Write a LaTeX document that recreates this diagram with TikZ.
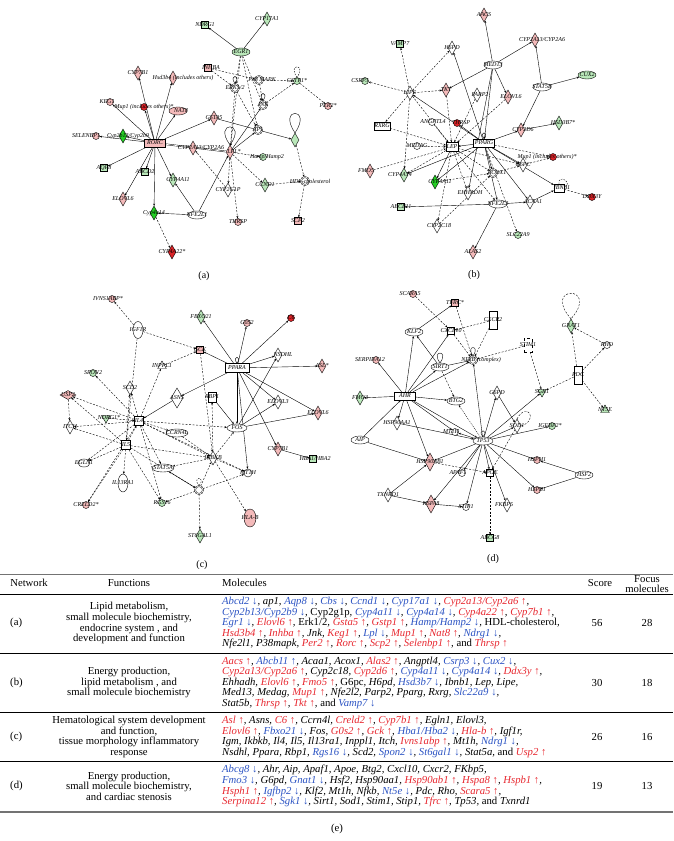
\documentclass[tikz,border=0pt]{standalone}
\usepackage{fontspec}
\setmainfont{Liberation Serif}
\usetikzlibrary{shapes.geometric,arrows.meta,backgrounds}

\definecolor{pinkf}{RGB}{244,186,186}
\definecolor{redf}{RGB}{220,36,40}
\definecolor{greenl}{RGB}{186,232,186}
\definecolor{greenb}{RGB}{36,206,36}
\definecolor{geneup}{RGB}{232,40,48}
\definecolor{genedn}{RGB}{44,84,196}

\newcommand{\gup}[1]{\textcolor{geneup}{#1~↑}}
\newcommand{\gdn}[1]{\textcolor{genedn}{#1~↓}}

\tikzset{
 gn/.style={draw, line width=0.4pt, inner sep=0pt, fill=white},
 dia/.style={gn, diamond, minimum width=8pt, minimum height=14pt},
 cir/.style={gn, circle, minimum size=7pt},
 ell/.style={gn, ellipse, minimum width=18pt, minimum height=8pt},
 sqr/.style={gn, rectangle, minimum size=7pt},
 rct/.style={gn, rectangle, minimum width=21pt, minimum height=8pt},
 cpx/.style={gn, circle, minimum size=8pt, double, double distance=0.7pt},
 tri/.style={gn, regular polygon, regular polygon sides=3, minimum size=10pt},
 pk/.style={fill=pinkf}, rd/.style={fill=redf},
 gl/.style={fill=greenl}, gb/.style={fill=greenb},
 lab/.style={font=\fontsize{6}{6}\selectfont\itshape, inner sep=0pt},
 tx/.style={label={[lab]center:#1}},
 ed/.style={-{Stealth[length=2.4pt,width=2pt]}, line width=0.4pt},
 ded/.style={ed, dash pattern=on 2pt off 1.5pt},
 tab/.style={font=\fontsize{10.7}{10.6}\selectfont, inner sep=0pt},
 mol/.style={tab, anchor=west, align=left, font=\fontsize{10.7}{10.6}\selectfont\itshape},
}

\begin{document}
\begin{tikzpicture}[x=1pt,y=-1pt]
 \useasboundingbox (0,0) rectangle (673,841);

 % Network (a)
 \node[rct,pk,tx=RORC] (rorc) at (155,143) {};
 \node[dia,pk,tx=CYP7B1] (cyp7b1a) at (138,73) {};
 \node[dia,pk,label={[lab,xshift=10pt]center:Hsd3b4 (includes others)}] (hsd3b4) at (173,78) {};
 \node[cir,pk,label={[lab,xshift=-3pt]center:KEG1}] (keg1) at (110,102) {};
 \node[cir,rd,label={[lab,xshift=0pt]center:Mup1 (includes others)*}] (mup1a) at (144,107) {};
 \node[ell,pk,label={[lab,xshift=3pt]center:NAT8}] (nat8) at (178,111) {};
 \node[cir,pk,label={[lab,xshift=-10pt]center:SELENBP1}] (selenbp1) at (96,136) {};
 \node[dia,gb,label={[lab,xshift=5pt]center:Cyp2b13/Cyp2b9}] (cyp2ba) at (123,136) {};
 \node[sqr,gl,tx=AQP8] (aqp8) at (104,168) {};
 \node[sqr,gl,tx=ABCD2] (abcd2) at (145,172) {};
 \node[dia,pk,tx=ELOVL6] (elovl6a) at (123,199) {};
 \node[dia,gl,label={[lab,xshift=5pt]center:CYP4A11}] (cyp4a11a) at (173,180) {};
 \node[dia,gb,tx=Cyp4a14] (cyp4a14a) at (154,213) {};
 \node[ell,tx=NFE2L1] (nfe2l1) at (197,215) {};
 \node[dia,rd,tx=CYP4A22*] (cyp4a22) at (172,252) {};
 \node[dia,pk,tx=GSTA5] (gsta5) at (214,118) {};
 \node[dia,pk,label={[lab,xshift=8pt]center:CYP2A13/CYP2A6}] (cyp2aa) at (193,148) {};
 \node[dia,pk,label={[lab,xshift=4pt]center:LPL*}] (lpla) at (230,152) {};
 \node[dia,gl] (cbs) at (295,140) {};
 \node[sqr,gl,tx=NDRG1] (ndrg1a) at (205,25) {};
 \node[dia,gl,tx=CYP17A1] (cyp17a1) at (267,19) {};
 \node[ell,gl,tx=EGR1] (egr1) at (241,52) {};
 \node[sqr,pk,label={[lab,xshift=3pt]center:INHBA}] (inhba) at (208,68) {};
 \node[cpx,tx=ERK1/2] (erk) at (235,88) {};
 \node[cpx,label={[lab,xshift=3pt]center:P38 MAPK}] (p38) at (259,80) {};
 \node[cir,gl,tx=GSTP1*] (gstp1) at (297,81) {};
 \node[cir,pk,tx=PER2*] (per2) at (328,106) {};
 \node[cpx,tx=JNK] (jnk) at (263,105) {};
 \node[cpx,tx=AP1] (ap1) at (258,130) {};
 \node[cir,gl,label={[lab,xshift=4pt]center:Hamp/Hamp2}] (hamp) at (263,157) {};
 \node[dia,gl,tx=CCND1] (ccnd1) at (265,185) {};
 \node[dia,tx=CYP2G1P] (cyp2g1p) at (228,190) {};
 \node[cir,pk,tx=THRSP] (thrspa) at (238,222) {};
 \node[cpx,label={[lab,xshift=5pt]center:HDL-cholesterol}] (hdl) at (305,181) {};
 \node[sqr,pk,tx=SCP2] (scp2) at (298,221) {};
 \node (capa) at (204,276) {(a)};

 % Network (b)
 \node[rct,tx=PPARG] (pparg) at (484,143) {};
 \node[dia,pk,tx=AACS] (aacs) at (484,15) {};
 \node[dia,pk,label={[lab,xshift=7pt]center:CYP2A13/CYP2A6}] (cyp2ab) at (535,40) {};
 \node[ell,tx=MED13] (med13) at (493,65) {};
 \node[ell,gl,tx=CUX2] (cux2) at (587,75) {};
 \node[ell,tx=STAT5B] (stat5b) at (542,87) {};
 \node[sqr,gl,tx=VAMP7] (vamp7) at (400,44) {};
 \node[dia,tx=H6PD] (h6pd) at (452,48) {};
 \node[cir,gl,label={[lab,xshift=-5pt]center:CSRP3}] (csrp3) at (365,81) {};
 \node[dia,tx=LIPE] (lipe) at (410,93) {};
 \node[dia,pk,tx=TKT] (tkt) at (446,90) {};
 \node[dia,label={[lab,xshift=3pt]center:PARP2}] (parp2) at (477,95) {};
 \node[dia,pk,label={[lab,xshift=3pt]center:ELOVL6}] (elovl6b) at (508,97) {};
 \node[rct,minimum width=16pt,tx=RXRG] (rxrg) at (382,126) {};
 \node[cir,label={[lab,xshift=1pt]center:ANGPTL4}] (angptl4) at (432,122) {};
 \node[cir,rd,label={[lab,xshift=4pt]center:THRSP}] (thrspb) at (457,123) {};
 \node[dia,pk,label={[lab,xshift=2pt]center:CYP2D6}] (cyp2d6) at (521,130) {};
 \node[dia,gl,label={[lab,xshift=4pt]center:HSD3B7*}] (hsd3b7) at (559,123) {};
 \node[cir,tx=MEDAG] (medag) at (417,146) {};
 \node[rct,minimum width=12pt,minimum height=9pt,tx=LEP] (lep) at (452,147) {};
 \node[cir,rd,label={[lab,xshift=-6pt]center:Mup1 (includes others)*}] (mup1b) at (553,157) {};
 \node[dia,tx=G6PC] (g6pc) at (523,165) {};
 \node[dia,pk,label={[lab,xshift=-4pt]center:FMO5}] (fmo5) at (370,171) {};
 \node[dia,gl,label={[lab,xshift=-4pt]center:CYP4A14}] (cyp4a14b) at (404,175) {};
 \node[dia,gb,label={[lab,xshift=5pt]center:CYP4A11}] (cyp4a11b) at (435,182) {};
 \node[cpx,label={[lab,xshift=4pt]center:ACOX1}] (acox1) at (493,173) {};
 \node[rct,minimum width=10pt,label={[lab,xshift=3pt]center:IBNB1}] (ibnb1) at (559,188) {};
 \node[cir,rd,tx=DDX3Y] (ddx3y) at (592,197) {};
 \node[dia,label={[lab,xshift=2pt]center:EHHADH}] (ehhadh) at (468,193) {};
 \node[ell,tx=NFE2L2] (nfe2l2) at (498,204) {};
 \node[dia,label={[lab,xshift=3pt]center:ACAA1}] (acaa1) at (530,202) {};
 \node[sqr,gl,tx=ABCB11] (abcb11) at (401,207) {};
 \node[dia,label={[lab,xshift=2pt]center:CYP2C18}] (cyp2c18) at (437,226) {};
 \node[cir,gl,tx=SLC22A9] (slc22a9) at (518,235) {};
 \node[dia,pk,tx=ALAS2] (alas2) at (473,252) {};
 \node (capb) at (474,275) {(b)};

 % Network (c)
 \node[rct,minimum width=24pt,minimum height=9pt,tx=PPARA] (pparac) at (237,368) {};
 \node[cir,pk,label={[lab,xshift=-4pt]center:IVNS1ABP*}] (ivns) at (112,299) {};
 \node[ell,minimum width=10pt,minimum height=17pt,tx=IGF1R] (igf1r) at (138,330) {};
 \node[dia,gl,tx=FBXO21] (fbxo21) at (201,317) {};
 \node[cir,pk,tx=G0S2] (g0s2) at (247,323) {};
 \node[cir,rd,tx=C6] (c6) at (291,318) {};
 \node[sqr,pk,tx=GCK] (gck) at (200,350) {};
 \node[dia,label={[lab,xshift=5pt]center:NSDHL}] (nsdhl) at (278,355) {};
 \node[dia,pk,tx=ASL*] (asl) at (322,366) {};
 \node[cir,gl,tx=SPON2] (spon2) at (93,373) {};
 \node[tri,tx=INPPL1] (inppl1) at (162,366) {};
 \node[dia,tx=SCD2] (scd2) at (130,388) {};
 \node[dia,minimum width=12pt,minimum height=20pt,tx=ASNS] (asns) at (177,398) {};
 \node[sqr,minimum width=8pt,minimum height=10pt,tx=RBP1] (rbp1) at (212,397) {};
 \node[dia,pk,minimum width=16pt,minimum height=9pt,tx=USP2] (usp2) at (68,395) {};
 \node[dia,tx=ELOVL3] (elovl3) at (278,402) {};
 \node[dia,pk,tx=ELOVL6] (elovl6c) at (318,413) {};
 \node[dia,tx=ITCH] (itch) at (70,427) {};
 \node[tri,gl,shape border rotate=180,label={[lab,xshift=3pt]center:NDRG1*}] (ndrg1c) at (106,418) {};
 \node[sqr,minimum size=9pt,tx=IL4] (il4) at (139,421) {};
 \node[ell,minimum width=22pt,tx=CCRN4L] (ccrn4l) at (177,433) {};
 \node[ell,minimum width=20pt,tx=FOS] (fos) at (237,428) {};
 \node[sqr,minimum size=9pt,tx=IL5] (il5) at (126,445) {};
 \node[dia,pk,tx=CYP7B1] (cyp7b1c) at (278,449) {};
 \node[sqr,gl,label={[lab,xshift=2pt]center:HBA1/HBA2}] (hba) at (313,459) {};
 \node[ell,minimum width=12pt,tx=EGLN1] (egln1) at (84,463) {};
 \node[dia,tx=IKBKB] (ikbkb) at (213,458) {};
 \node[ell,minimum width=22pt,tx=STAT5A] (stat5a) at (163,468) {};
 \node[cir,minimum size=8pt,tx=MT1H] (mt1h) at (248,473) {};
 \node[ell,minimum width=10pt,minimum height=18pt,tx=IL13RA1] (il13ra1) at (123,483) {};
 \node[cpx] (igm) at (199,490) {};
 \node[cir,gl,tx=RGS16] (rgs16) at (162,503) {};
 \node[cir,pk,tx=CRELD2*] (creld2) at (86,505) {};
 \node[ell,pk,minimum width=12pt,minimum height=18pt,tx=HLA-B] (hlab) at (250,518) {};
 \node[dia,gl,tx=ST6GAL1] (st6gal1) at (200,536) {};
 \node (capc) at (202,565) {(c)};

 % Network (d)
 \node[cir,pk,label={[lab,xshift=-3pt]center:SCARA5}] (scara5) at (413,294) {};
 \node[sqr,pk,tx=TFRC*] (tfrc) at (455,303) {};
 \node[rct,minimum width=8pt,minimum height=18pt,tx=CXCR2] (cxcr2) at (493,320) {};
 \node[ell,tx=KLF2] (klf2) at (414,332) {};
 \node[sqr,tx=CXCL10] (cxcl10) at (451,331) {};
 \node[dia,gl,tx=GNAT1] (gnat1) at (571,326) {};
 \node[cir,tx=RHO] (rho) at (607,345) {};
 \node[rct,minimum width=8pt,minimum height=18pt,tx=PDC] (pdc) at (578,375) {};
 \node[tri,gl,tx=NT5E] (nt5e) at (605,410) {};
 \node[rct,dashed,minimum width=8pt,minimum height=14pt,tx=STIM1] (stim1) at (528,345) {};
 \node[tri,gl,shape border rotate=180,tx=SGK1] (sgk1) at (542,392) {};
 \node[cpx,label={[lab,xshift=8pt]center:NFkB (complex)}] (nfkb) at (473,360) {};
 \node[ell,tx=SIRT1] (sirt1) at (440,367) {};
 \node[cir,pk,label={[lab,xshift=-6pt]center:SERPINA12}] (serpina12) at (376,360) {};
 \node[rct,tx=AHR] (ahr) at (405,396) {};
 \node[dia,gl,tx=FMO3] (fmo3) at (360,398) {};
 \node[ell,tx=BTG2] (btg2) at (456,401) {};
 \node[dia,tx=G6PD] (g6pd) at (497,393) {};
 \node[dia,tx=SOD1] (sod1) at (517,426) {};
 \node[cir,gl,label={[lab,xshift=-2pt]center:IGFBP2*}] (igfbp2) at (552,426) {};
 \node[cir,label={[lab,xshift=-4pt]center:MT1H}] (mt1hd) at (455,432) {};
 \node[dia,tx=HSP90AA1] (hsp90aa1) at (397,423) {};
 \node[ell,tx=AIP] (aip) at (360,440) {};
 \node[ell,minimum width=20pt,tx=TP53] (tp53) at (483,441) {};
 \node[cir,pk,tx=HSPH1] (hsph1) at (537,460) {};
 \node[ell,tx=HSF2] (hsf2) at (584,475) {};
 \node[cir,pk,tx=HSPB1] (hspb1) at (537,490) {};
 \node[dia,pk,minimum width=10pt,minimum height=18pt,tx=HSP90AB1] (hsp90ab1) at (430,462) {};
 \node[cir,label={[lab,xshift=-4pt]center:APAF1}] (apaf1) at (462,473) {};
 \node[sqr,tx=APOE] (apoe) at (490,473) {};
 \node[dia,tx=TXNRD1] (txnrd1) at (388,495) {};
 \node[dia,pk,minimum width=10pt,minimum height=18pt,tx=HSPA8] (hspa8) at (431,504) {};
 \node[cir,tx=STIP1] (stip1) at (466,507) {};
 \node[dia,label={[lab,xshift=-3pt]center:FKBP5}] (fkbp5) at (507,505) {};
 \node[sqr,gl,tx=ABCG8] (abcg8) at (490,538) {};
 \node (capd) at (493,559) {(d)};

 % Connectors behind the nodes
 \begin{scope}[on background layer]
 \fill[white] (0,0) rectangle (673,841);
 % (a)
 \draw[ed] (rorc) edge (cyp7b1a) edge (hsd3b4) edge (keg1) edge (mup1a) edge (nat8)
  edge (selenbp1) edge (cyp2ba) edge (aqp8) edge (abcd2) edge (elovl6a)
  edge (cyp4a11a) edge (cyp4a14a) edge (gsta5);
 \draw[line width=0.4pt, double, double distance=0.7pt] (rorc) -- (lpla);
 \draw[ed] (egr1) edge (ndrg1a) edge (cyp17a1);
 \draw[ed] (gsta5) edge (cbs);
 \draw[ed] (nfe2l1) edge (cyp4a14a) edge (cyp4a11a) edge (lpla);
 \draw[ed] (lpla) edge (jnk) edge (ap1);
 \draw[ded] (cyp4a14a) edge (cyp4a22);
 \draw[ded] (egr1) edge (erk) edge (jnk) edge (lpla) edge (ap1);
 \draw[ded] (inhba) edge (p38) edge (erk);
 \draw[ded] (erk) edge (ap1) edge (lpla);
 \draw[ded] (p38) edge (gstp1) edge (jnk);
 \draw[ded] (jnk) edge (gstp1);
 \draw[ded] (gstp1) edge (per2);
 \draw[ded] (lpla) edge (hamp) edge (ccnd1) edge (thrspa) edge (cyp2g1p);
 \draw[ded] (cyp2g1p) edge (cyp2aa);
 \draw[ded] (ccnd1) edge (hdl);
 \draw[ded] (cbs) edge (hdl);
 \draw[ded] (hdl) edge (scp2);
 \draw[line width=0.4pt] (lpla.north) .. controls +(-18,-24) and +(18,-24) .. (lpla.north);
 \draw[line width=0.4pt] (cbs.north) .. controls +(-18,-26) and +(18,-26) .. (cbs.north);
 \draw[line width=0.4pt] (erk.north) .. controls +(-7,-10) and +(7,-10) .. (erk.north);
 \draw[line width=0.4pt] (jnk.north) .. controls +(-7,-10) and +(7,-10) .. (jnk.north);
 \draw[line width=0.4pt, dash pattern=on 1.5pt off 1.2pt] (gstp1.north) .. controls +(-10,-14) and +(10,-14) .. (gstp1.north);
 % (b)
 \draw[ed] (med13) edge (aacs) edge (cyp2ab) edge (tkt) edge (elovl6b) edge (pparg) edge (ehhadh);
 \draw[ed] (stat5b) edge (cyp2ab) edge (cux2) edge (cyp2d6);
 \draw[ed] (cyp2d6) edge (hsd3b7);
 \draw[ed] (pparg) edge (h6pd) edge (lipe) edge (lep) edge (thrspb) edge (cyp2d6)
  edge (cyp4a11b) edge (acox1) edge (nfe2l2) edge (g6pc) edge (ibnb1) edge (acaa1) edge (cyp4a14b);
 \draw[ed] (nfe2l2) edge (abcb11) edge (alas2) edge (acaa1);
 \draw[ed] (acaa1) edge (ibnb1);
 \draw[ed] (lep) edge (cyp4a11b);
 \draw[ded] (lipe) edge (vamp7) edge (csrp3) edge (rxrg) edge (h6pd) edge (tkt) edge (cyp4a14b) edge (lep);
 \draw[ded] (rxrg) edge (lep);
 \draw[ded] (fmo5) edge (lep);
 \draw[ded] (medag) edge (lep);
 \draw[ded] (pparg) edge (mup1b) edge (slc22a9);
 \draw[ded] (g6pc) edge (mup1b);
 \draw[ded] (ibnb1) edge (ddx3y);
 \draw[ded] (lep) edge (cyp2c18) edge (ehhadh) edge (acox1) edge (g6pc) edge (cyp4a14b) edge (nfe2l2);
 \draw[ded] (tkt) edge (lep);
 \draw[ded] (parp2) edge (lep);
 \draw[ded] (elovl6b) edge (lep);
 \draw[ded] (angptl4) edge (lep);
 \draw[ded] (cyp4a11b) edge (acox1);
 \draw[ded] (cyp2c18) edge (acox1);
 \draw[ded] (acox1) edge (g6pc);
 \draw[line width=0.4pt] (pparg.north) .. controls +(-6,-8) and +(6,-8) .. (pparg.north);
 \draw[line width=0.4pt, dash pattern=on 1.5pt off 1.2pt] (ibnb1.north) .. controls +(-2,-10) and +(10,-6) .. (ibnb1.east);
 % (c)
 \draw[ed] (pparac) edge (fbxo21) edge (g0s2) edge (c6) edge (nsdhl) edge (asl) edge (elovl6c)
  edge (cyp7b1c) edge (fos) edge (asns) edge (gck) edge (elovl3) edge (mt1h);
 \draw[ed] (fos) edge (elovl3) edge (nsdhl) edge (elovl6c);
 \draw[ed] (rbp1) edge (fos);
 \draw[ed] (cyp7b1c) edge (hba);
 \draw[ed] (asns) edge (il4);
 \draw[ed] (igm) edge (stat5a);
 \draw[ded] (igf1r) edge (ivns) edge (gck) edge (il5);
 \draw[ded] (inppl1) edge (gck);
 \draw[ded] (gck) edge (ikbkb);
 \draw[ded] (il4) edge (spon2) edge (scd2) edge (inppl1) edge (usp2) edge (itch) edge (ccrn4l)
  edge (fos) edge (ikbkb) edge (stat5a) edge (rgs16) edge (egln1) edge (creld2) edge (mt1h);
 \draw[ded] (il5) edge (itch) edge (egln1) edge (creld2) edge (il13ra1) edge (rgs16)
  edge (ikbkb) edge (scd2) edge (usp2) edge (il4) edge (igm);
 \draw[ded] (ndrg1c) edge (il4);
 \draw[ded] (usp2) edge (itch);
 \draw[ded] (ikbkb) edge (fos) edge (rbp1) edge (hlab) edge (stat5a) edge (mt1h);
 \draw[ded] (igm) edge (mt1h) edge (st6gal1) edge (rgs16) edge (ikbkb);
 \draw[ded] (ccrn4l) edge (ikbkb);
 \draw[line width=0.4pt] (pparac.north) .. controls +(-6,-8) and +(6,-8) .. (pparac.north);
 \draw[line width=0.4pt, dash pattern=on 1.5pt off 1.2pt] (igm.north) .. controls +(-8,-10) and +(8,-10) .. (igm.north);
 % (d)
 \draw[ed] (klf2) edge (tfrc);
 \draw[ed] (ahr) edge (klf2) edge (cxcl10) edge (sirt1) edge (nfkb) edge (fmo3) edge (btg2)
  edge (mt1hd) edge (hsp90aa1) edge (hsp90ab1) edge (serpina12) edge (tp53);
 \draw[ed] (aip) edge (ahr) edge (hsp90ab1);
 \draw[ed] (hsp90aa1) edge (tp53);
 \draw[ed] (sirt1) edge (klf2) edge (nfkb);
 \draw[ed] (tp53) edge (nfkb) edge (g6pd) edge (sgk1) edge (sod1) edge (igfbp2) edge (hsph1)
  edge (hspb1) edge (hsp90ab1) edge (apaf1) edge (apoe) edge (stip1) edge (fkbp5) edge (mt1hd) edge (hspa8);
 \draw[ed] (g6pd) edge (sod1);
 \draw[ed] (hsf2) edge (hsph1) edge (hspb1);
 \draw[ed] (txnrd1) edge (hsp90ab1) edge (hspa8);
 \draw[ed] (hspa8) edge (stip1);
 \draw[ed, dash pattern=on 1pt off 1pt] (tp53) edge (btg2);
 \draw[ded] (scara5) edge (cxcl10);
 \draw[ded] (tfrc) edge (nfkb);
 \draw[ded] (cxcr2) edge (nfkb) edge (cxcl10);
 \draw[ded] (cxcl10) edge (nfkb);
 \draw[ded] (stim1) edge (nfkb) edge (sgk1);
 \draw[ded] (pdc) edge (sgk1) edge (gnat1) edge (rho) edge (nt5e);
 \draw[ded] (rho) edge (gnat1);
 \draw[ded] (sirt1) edge (btg2);
 \draw[ded] (hsp90ab1) edge (apoe);
 \draw[ded] (apoe) edge (abcg8);
 \draw[ded] (sod1) edge (apoe);
 \draw[line width=0.4pt] (tp53.north) .. controls +(-7,-8) and +(7,-8) .. (tp53.north);
 \draw[line width=0.4pt] (sirt1.north) .. controls +(-10,-13) and +(10,-13) .. (sirt1.north);
 \draw[line width=0.4pt] (nfkb.north) .. controls +(-8,-11) and +(8,-11) .. (nfkb.north);
 \draw[line width=0.4pt, dash pattern=on 2pt off 1.5pt] (gnat1.north) .. controls +(-30,-34) and +(30,-34) .. (gnat1.north);
 \draw[line width=0.4pt, dash pattern=on 2pt off 1.5pt] (sod1.north) .. controls +(10,-18) and +(18,-6) .. (sod1.east);
 \end{scope}

 % Table (e)
 \draw[line width=1.2pt, black!55] (0,574.5) -- (673,574.5);
 \draw[line width=0.5pt] (0,594) -- (673,594);
 \draw[line width=0.5pt] (0,653) -- (673,653);
 \draw[line width=0.5pt] (0,712.6) -- (673,712.6);
 \draw[line width=0.5pt] (0,761.6) -- (673,761.6);
 \draw[line width=1.2pt, black!55] (0,812) -- (673,812);

 \node[tab] (hnet) at (29,583) {Network};
 \node[tab] (hfun) at (129,583) {Functions};
 \node[tab,anchor=west] (hmol) at (222,583) {Molecules};
 \node[tab] (hsco) at (600,583) {Score};
 \node[tab,align=center,font=\fontsize{10.7}{9.5}\selectfont] (hfoc) at (647,584) {Focus\\molecules};

 \node[tab,anchor=west] (neta) at (10,623.2) {(a)};
 \node[tab,align=center] (funa) at (129,623.2) {Lipid metabolism,\\small molecule biochemistry,\\endocrine system , and\\development and function};
 \node[mol] (mola) at (222,623.2) {%
 \gdn{Abcd2}, ap1, \gdn{Aqp8}, \gdn{Cbs}, \gdn{Ccnd1}, \gdn{Cyp17a1}, \gup{Cyp2a13/Cyp2a6},\\
 \gdn{Cyp2b13/Cyp2b9}, \textup{Cyp2g1p}, \gdn{Cyp4a11}, \gdn{Cyp4a14}, \gup{Cyp4a22}, \gup{Cyp7b1},\\
 \gdn{Egr1}, \gup{Elovl6}, \textup{Erk1/2}, \gup{Gsta5}, \gup{Gstp1}, \gdn{Hamp/Hamp2}, \textup{HDL-cholesterol},\\
 \gup{Hsd3b4}, \gup{Inhba}, Jnk, \gup{Keg1}, \gdn{Lpl}, \gup{Mup1}, \gup{Nat8}, \gdn{Ndrg1},\\
 Nfe2l1, P38mapk, \gup{Per2}, \gup{Rorc}, \gup{Scp2}, \gup{Selenbp1}, \textup{and} \gup{Thrsp}};
 \node[tab] (scoa) at (597,623.2) {56};
 \node[tab] (foca) at (647,623.2) {28};

 \node[tab,anchor=west] (netb) at (10,682.8) {(b)};
 \node[tab,align=center] (funb) at (129,682.8) {Energy production,\\lipid metabolism , and\\small molecule biochemistry};
 \node[mol] (molb) at (222,682.8) {%
 \gup{Aacs}, \textcolor{genedn}{Abcb11~↑}, Acaa1, Acox1, \gup{Alas2}, Angptl4, \gdn{Csrp3}, \gdn{Cux2},\\
 \gup{Cyp2a13/Cyp2a6}, Cyp2c18, \gup{Cyp2d6}, \gdn{Cyp4a11}, \gdn{Cyp4a14}, \gup{Ddx3y},\\
 Ehhadh, \gup{Elovl6}, \gup{Fmo5}, \textup{G6pc}, H6pd, \gdn{Hsd3b7}, Ibnb1, Lep, Lipe,\\
 Med13, Medag, \gup{Mup1}, Nfe2l2, Parp2, Pparg, Rxrg, \gdn{Slc22a9},\\
 Stat5b, \gup{Thrsp}, \gup{Tkt}, \textup{and} \gdn{Vamp7}};
 \node[tab] (scob) at (597,682.8) {30};
 \node[tab] (focb) at (647,682.8) {18};

 \node[tab,anchor=west] (netc) at (10,737.1) {(c)};
 \node[tab,align=center] (func) at (129,737.1) {Hematological system development\\and function,\\tissue morphology inflammatory\\response};
 \node[mol] (molc) at (222,737.1) {%
 \gup{Asl}, Asns, \gup{C6}, Ccrn4l, \gup{Creld2}, \gup{Cyp7b1}, Egln1, Elovl3,\\
 \gup{Elovl6}, \gdn{Fbxo21}, Fos, \gup{G0s2}, \gup{Gck}, \gdn{Hba1/Hba2}, \gup{Hla-b}, Igf1r,\\
 Igm, Ikbkb, Il4, Il5, Il13ra1, Inppl1, Itch, \gup{Ivns1abp}, Mt1h, \gdn{Ndrg1},\\
 Nsdhl, Ppara, Rbp1, \gdn{Rgs16}, Scd2, \gdn{Spon2}, \gdn{St6gal1}, Stat5a, \textup{and} \gup{Usp2}};
 \node[tab] (scoc) at (597,737.1) {26};
 \node[tab] (focc) at (647,737.1) {16};

 \node[tab,anchor=west] (netd) at (10,786.1) {(d)};
 \node[tab,align=center] (fund) at (129,786.1) {Energy production,\\small molecule biochemistry,\\and cardiac stenosis};
 \node[mol] (mold) at (222,786.1) {%
 \gdn{Abcg8}, Ahr, Aip, Apaf1, Apoe, Btg2, Cxcl10, Cxcr2, FKbp5,\\
 \gdn{Fmo3}, G6pd, \gdn{Gnat1}, Hsf2, Hsp90aa1, \gup{Hsp90ab1}, \gup{Hspa8}, \gup{Hspb1},\\
 \gup{Hsph1}, \gdn{Igfbp2}, Klf2, Mt1h, Nfkb, \gdn{Nt5e}, Pdc, Rho, \gup{Scara5},\\
 \gup{Serpina12}, \gdn{Sgk1}, Sirt1, Sod1, Stim1, Stip1, \gup{Tfrc}, Tp53, \textup{and} Txnrd1};
 \node[tab] (scod) at (597,786.1) {19};
 \node[tab] (focd) at (647,786.1) {13};

 \node[tab] (cape) at (337,829) {(e)};
\end{tikzpicture}
\end{document}
